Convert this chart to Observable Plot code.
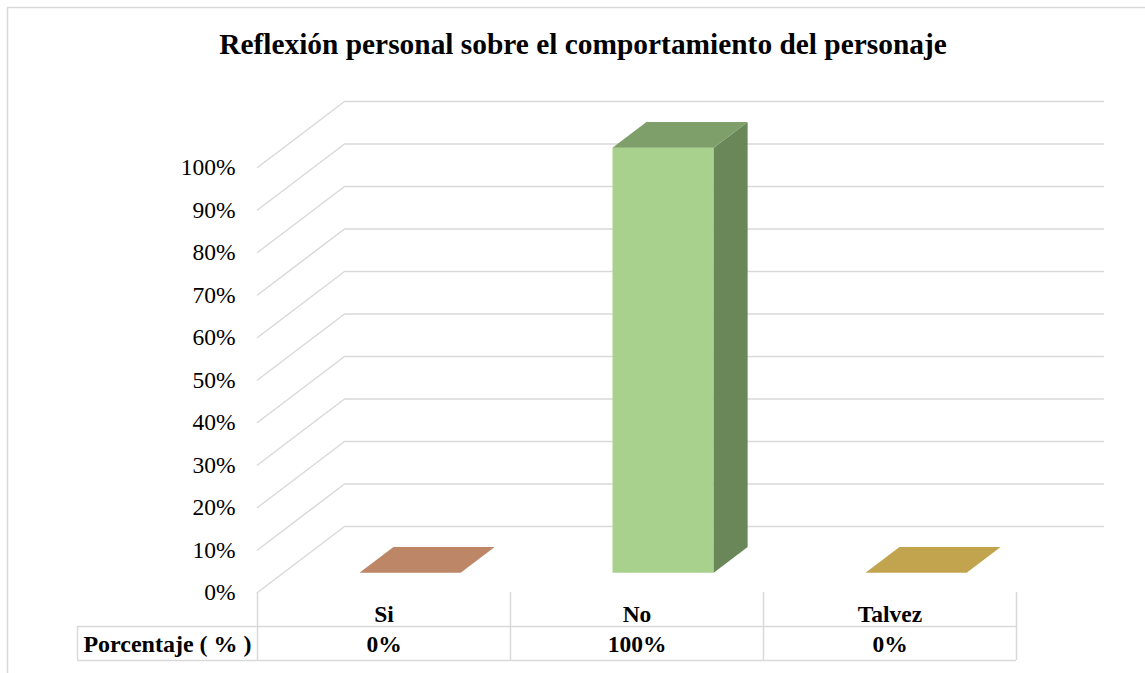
<!DOCTYPE html>
<html>
<head>
<meta charset="utf-8">
<script src="https://cdn.jsdelivr.net/npm/d3@7"></script>
<script src="https://cdn.jsdelivr.net/npm/@observablehq/plot@0.6"></script>
<style>
  html, body { margin: 0; padding: 0; background: #fff; }
  svg { display: block; }
</style>
</head>
<body>
<div id="chart"></div>
<script>
// ---- data ----
const title = "Reflexión personal sobre el comportamiento del personaje";
const categories = ["Si", "No", "Talvez"];
const values = [0, 100, 0];
const valueLabels = ["0%", "100%", "0%"];
const yTicks = [0, 10, 20, 30, 40, 50, 60, 70, 80, 90, 100];
const rowLabel = "Porcentaje ( % )";
const frontColors = ["#F4B183", "#A9D18E", "#FFD966"];
const topColors = ["#BC8667", "#7F9F6A", "#C2A44E"];
const sideColors = ["#9C6E55", "#6A8759", "#A08A40"];

// ---- style / projection constants ----
const W = 1145, H = 673;
const DX = 87 / 253;      // depth offset in category units
const DY = 66 / 4.25;     // depth offset in percent units
const barHalf = 0.2;      // half bar width (category units)
const d0 = 0.30, d1 = 0.69; // bar depth span
const rowH = 8;           // table row height (percent units)
const labelLeft = -180 / 253;
const grid = "#d9d9d9";
const serif = "'Liberation Serif','Times New Roman',serif";

const P = (xu, v, d) => ({x: xu + d * DX, y: v + d * DY});

// gridlines (left wall diagonal + back wall)
const gridPts = [];
yTicks.forEach(v => {
  [P(0, v, 0), P(0, v, 1), P(3, v, 1)].forEach(p => gridPts.push({...p, id: "g" + v}));
});

// bar faces
const faces = [];
categories.forEach((c, i) => {
  const v = values[i];
  const xl = i + 0.5 - barHalf, xr = i + 0.5 + barHalf;
  const add = (id, color, pts) => pts.forEach(p => faces.push({...p, id, color}));
  if (v > 0) {
    add(c + "front", frontColors[i], [P(xl, 0, d0), P(xr, 0, d0), P(xr, v, d0), P(xl, v, d0)]);
    add(c + "side", sideColors[i], [P(xr, 0, d0), P(xr, 0, d1), P(xr, v, d1), P(xr, v, d0)]);
  }
  add(c + "top", topColors[i], [P(xl, v, d0), P(xr, v, d0), P(xr, v, d1), P(xl, v, d1)]);
});

const cats = categories.map((c, i) => ({c, i, label: valueLabels[i]}));

const plot = Plot.plot({
  width: W,
  height: H,
  marginLeft: 257,
  marginRight: W - 1016,
  marginTop: 167,
  marginBottom: H - 592,
  x: {type: "linear", domain: [0, 3], axis: null},
  y: {type: "linear", domain: [0, 100], axis: null},
  style: {fontFamily: serif, background: "#fff", overflow: "visible"},
  marks: [
    Plot.line(gridPts, {x: "x", y: "y", z: "id", stroke: grid, strokeWidth: 1.5}),
    Plot.axisY({ticks: yTicks, tickFormat: d => d + "%", tickSize: 0, tickPadding: 22,
      label: null, fontSize: 23.5, fill: "#000", fontFamily: serif}),
    Plot.line(faces, {x: "x", y: "y", z: "id", fill: "color", stroke: null, curve: "linear-closed"}),
    // table lines
    Plot.ruleX([0, 1, 2, 3], {y1: 0, y2: -2 * rowH, stroke: grid, strokeWidth: 1.5}),
    Plot.ruleX([labelLeft], {y1: -rowH, y2: -2 * rowH, stroke: grid, strokeWidth: 1.5}),
    Plot.ruleY([-rowH, -2 * rowH], {x1: labelLeft, x2: 3, stroke: grid, strokeWidth: 1.5}),
    // table text
    Plot.text(cats, {x: d => d.i + 0.5, y: -rowH / 2, text: "c", dy: 4.5,
      fontSize: 23.5, fontWeight: "bold", fill: "#000"}),
    Plot.text(cats, {x: d => d.i + 0.5, y: -1.5 * rowH, text: "label", dy: 1,
      fontSize: 23.5, fontWeight: "bold", fill: "#000", letterSpacing: 1}),
    Plot.text([rowLabel], {x: labelLeft / 2, y: -1.5 * rowH, text: d => d, dy: 1,
      fontSize: 24, fontWeight: "bold", fill: "#000"})
  ]
});

const svg = d3.select(plot);
// outer border (left and top)
svg.insert("path", ":first-child")
  .attr("d", `M7.5,${H} V7.5 H${W}`)
  .attr("fill", "none").attr("stroke", grid).attr("stroke-width", 1.5);
svg.append("text")
  .attr("x", 583).attr("y", 54)
  .attr("text-anchor", "middle")
  .attr("font-family", serif)
  .attr("font-weight", "bold")
  .attr("font-size", 29.4)
  .attr("fill", "#000")
  .text(title);

document.getElementById("chart").appendChild(plot);
</script>
</body>
</html>
